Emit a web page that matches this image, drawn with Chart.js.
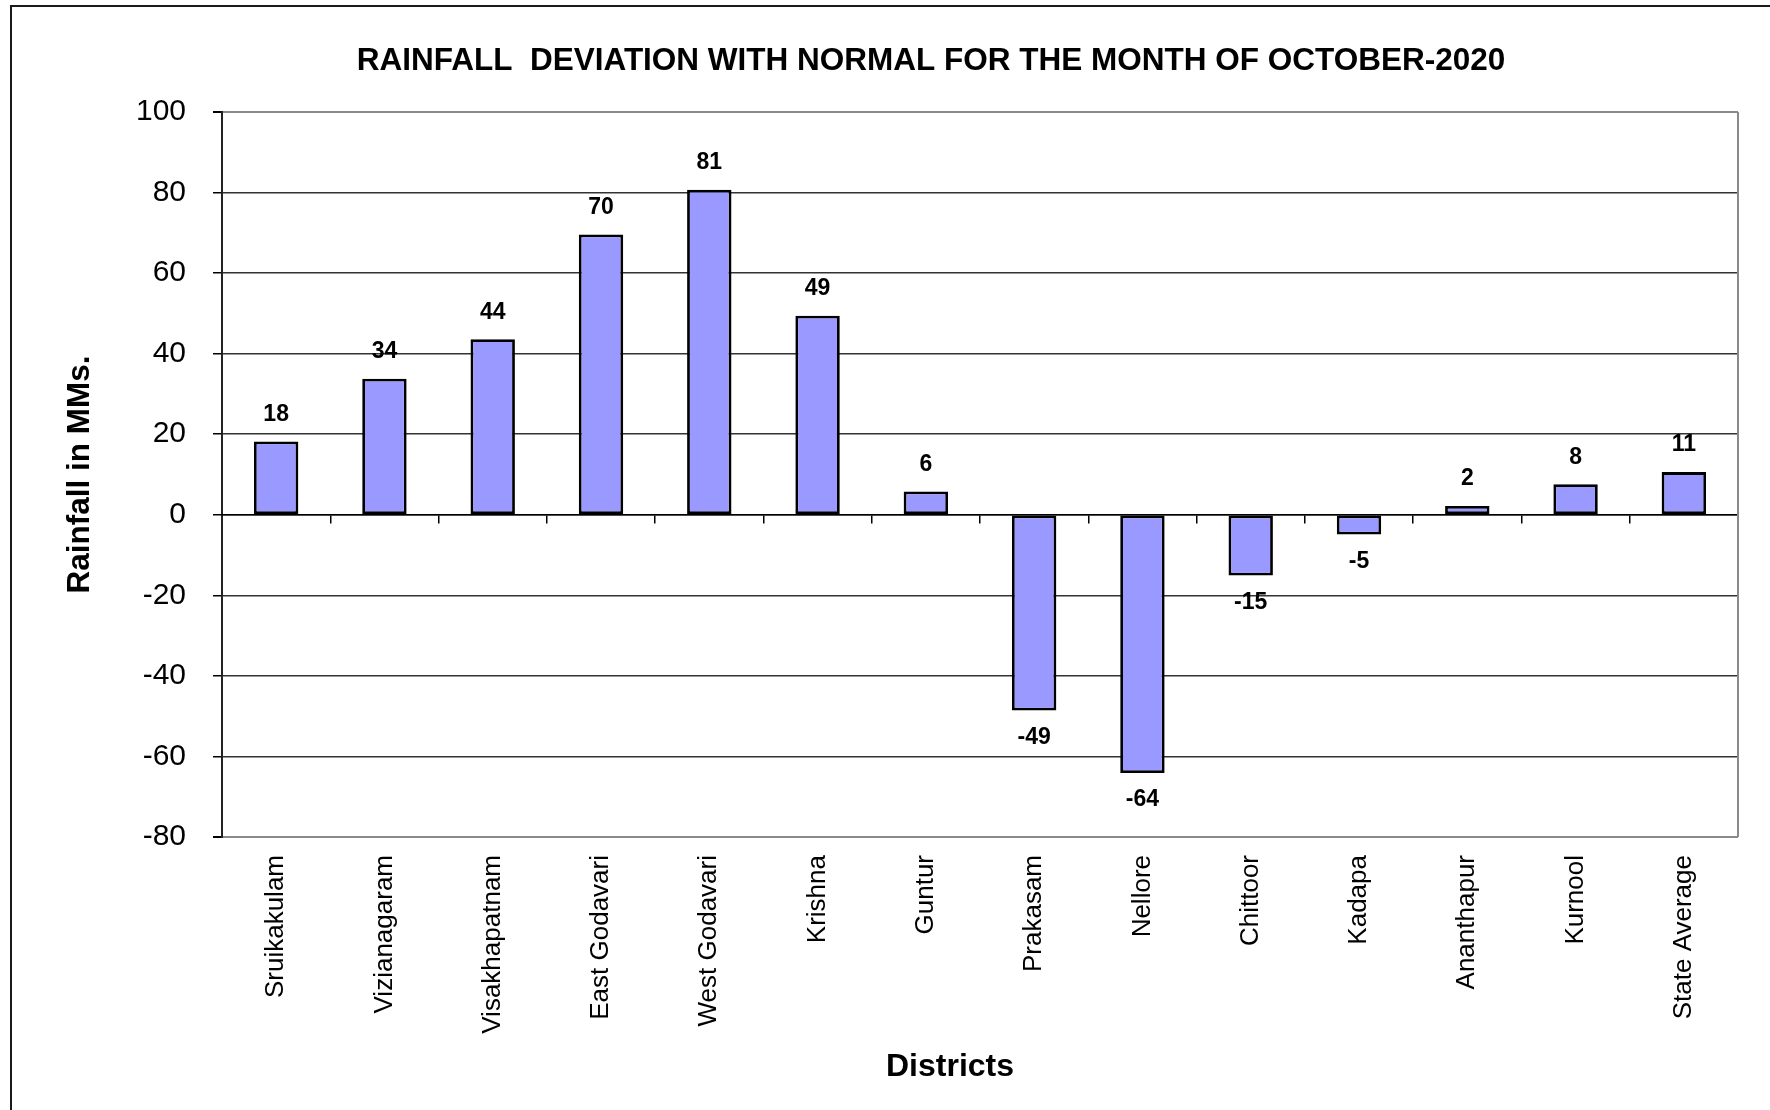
<!DOCTYPE html>
<html>
<head>
<meta charset="utf-8">
<title>Rainfall deviation - October 2020</title>
<script src="https://cdn.jsdelivr.net/npm/chart.js@4.4.1/dist/chart.umd.min.js"></script>
<style>
  html, body { margin: 0; padding: 0; background: #fff; overflow: hidden; }
  #wrap { position: relative; width: 1770px; height: 1110px; }
  #frame { position: absolute; left: 10px; top: 5px; width: 1900px; height: 1300px; border: 2px solid #1a1a1a; box-sizing: border-box; }
  #chart { position: absolute; left: 0; top: 0; }
</style>
</head>
<body>
<div id="wrap">
  <div id="frame"></div>
  <canvas id="chart" width="1770" height="1110"></canvas>
</div>
<script>
// values (mm deviation from normal)
const chartTitle = "RAINFALL  DEVIATION WITH NORMAL FOR THE MONTH OF OCTOBER-2020";
const xTitle = "Districts";
const yTitle = "Rainfall in MMs.";
const districts = ["Sruikakulam", "Vizianagaram", "Visakhapatnam", "East Godavari", "West Godavari",
  "Krishna", "Guntur", "Prakasam", "Nellore", "Chittoor", "Kadapa", "Ananthapur", "Kurnool", "State Average"];
const deviation = [18.2, 33.8, 43.6, 69.6, 80.7, 49.4, 5.8, -48.6, -64.1, -15.1, -4.9, 2.2, 7.6, 10.6];
const yMin = -80;
const yMax = 100;
const yStep = 20;

const FONT = '"Liberation Sans", Arial, sans-serif';
Chart.defaults.font.family = FONT;
Chart.defaults.color = '#000';

// title and x caption sit left of the plot centre in the original, so draw them by hand
const sheetTitles = {
  id: 'sheetTitles',
  afterDraw(chart) {
    const ctx = chart.ctx;
    ctx.save();
    ctx.fillStyle = '#000';
    ctx.textAlign = 'center';
    ctx.textBaseline = 'middle';
    ctx.font = 'bold 31.5px ' + FONT;
    ctx.fillText(chartTitle, 931, 61);
    ctx.font = 'bold 32px ' + FONT;
    ctx.fillText(xTitle, 950, 1067);
    ctx.restore();
  }
};

// right edge of the plot box
const plotFrame = {
  id: 'plotFrame',
  beforeDatasetsDraw(chart) {
    const { ctx, chartArea: a } = chart;
    ctx.save();
    ctx.strokeStyle = '#8a8a8a';
    ctx.lineWidth = 2;
    ctx.beginPath();
    ctx.moveTo(a.right, a.top);
    ctx.lineTo(a.right, a.bottom);
    ctx.stroke();
    ctx.restore();
  }
};

// rounded value over / under each bar
const valueLabels = {
  id: 'valueLabels',
  afterDatasetsDraw(chart) {
    const ctx = chart.ctx;
    const meta = chart.getDatasetMeta(0);
    ctx.save();
    ctx.font = 'bold 23px ' + FONT;
    ctx.fillStyle = '#000';
    ctx.textAlign = 'center';
    ctx.textBaseline = 'middle';
    meta.data.forEach((bar, i) => {
      const v = deviation[i];
      const y = v >= 0 ? bar.y - 27 : bar.y + 27;
      ctx.fillText(String(Math.round(v)), bar.x, y);
    });
    ctx.restore();
  }
};

const isEdge = c => c.tick && (c.tick.value === yMax || c.tick.value === yMin);

new Chart(document.getElementById('chart'), {
  type: 'bar',
  data: {
    labels: districts,
    datasets: [{
      label: 'Deviation',
      data: deviation,
      xAxisID: 'x',
      yAxisID: 'y',
      backgroundColor: '#9999ff',
      borderColor: '#000',
      borderWidth: 2.8,
      borderSkipped: false,
      barPercentage: 0.41,
      categoryPercentage: 1.0
    }]
  },
  options: {
    responsive: false,
    animation: false,
    devicePixelRatio: 1,
    layout: { padding: { top: 112, right: 32, bottom: 0, left: 0 } },
    plugins: {
      legend: { display: false },
      title: { display: false },
      tooltip: { enabled: false }
    },
    scales: {
      x: {
        type: 'category',
        position: 'bottom',
        offset: true,
        grid: { display: false, drawTicks: false },
        border: { display: false },
        ticks: {
          autoSkip: false,
          minRotation: 90,
          maxRotation: 90,
          padding: 18,
          font: { size: 26 },
          color: '#000'
        },
        afterFit(scale) { scale.height = 273; }
      },
      y: {
        position: 'left',
        min: yMin,
        max: yMax,
        ticks: { stepSize: yStep, padding: 27, font: { size: 30 }, color: '#000' },
        grid: {
          color: c => isEdge(c) ? '#8a8a8a' : '#333',
          lineWidth: c => isEdge(c) ? 2 : 1.5,
          tickColor: '#000',
          tickLength: 9
        },
        border: { color: '#222', width: 2 },
        title: {
          display: true,
          text: yTitle,
          font: { size: 31.5, weight: 'bold' },
          padding: { top: 61, bottom: 0 },
          color: '#000'
        },
        afterFit(scale) { scale.width = 222; }
      },
      // the zero line carries the category tick marks
      xZero: {
        type: 'category',
        axis: 'x',
        position: { y: 0 },
        offset: true,
        grid: { offset: true, drawOnChartArea: false, drawTicks: true, tickLength: 8, color: '#000', lineWidth: 1.5 },
        border: { display: true, color: '#000', width: 1.5 },
        ticks: { display: false }
      }
    }
  },
  plugins: [sheetTitles, plotFrame, valueLabels]
});
</script>
</body>
</html>
